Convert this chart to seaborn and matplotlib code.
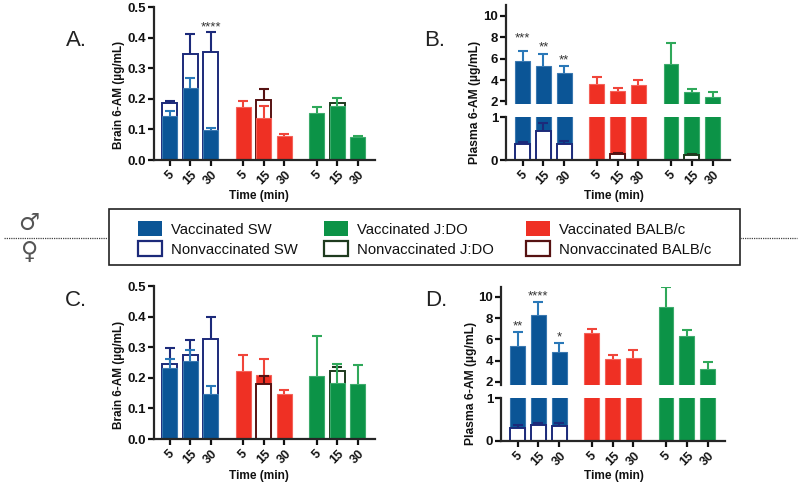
import matplotlib
matplotlib.use("Agg")
import matplotlib.pyplot as plt
from matplotlib.lines import Line2D
from matplotlib.patches import Patch, Rectangle
import seaborn as sns
import pandas as pd
import numpy as np

W, H = 800, 486

times = ["5", "15", "30"]
strains = ["SW", "BALB/c", "J:DO"]
nan = np.nan

# panel A, brain, male
a_vacc = [0.143, 0.235, 0.098, 0.173, 0.138, 0.077, 0.152, 0.175, 0.074]
a_vacc_hi = [0.160, 0.268, 0.105, 0.192, 0.178, 0.086, 0.173, 0.202, 0.080]
a_non = [0.185, 0.348, 0.353, nan, 0.197, nan, nan, 0.187, nan]
a_non_hi = [0.193, 0.412, 0.418, nan, 0.232, nan, nan, nan, nan]
a_stars = ["", "", "****", "", "", "", "", "", ""]

# panel B, plasma, male
b_vacc = [5.75, 5.35, 4.65, 3.65, 2.95, 3.50, 5.50, 2.85, 2.45]
b_vacc_hi = [6.75, 6.40, 5.30, 4.25, 3.25, 4.00, 7.45, 3.15, 2.90]
b_non = [0.38, 0.67, 0.38, nan, 0.13, nan, nan, 0.12, nan]
b_non_hi = [0.42, 0.86, 0.44, nan, 0.16, nan, nan, 0.14, nan]
b_stars = ["***", "**", "**", "", "", "", "", "", ""]

# panel C, brain, female
c_vacc = [0.232, 0.255, 0.147, 0.222, 0.208, 0.146, 0.207, 0.183, 0.180]
c_vacc_hi = [0.260, 0.290, 0.173, 0.275, 0.262, 0.160, 0.335, 0.245, 0.243]
c_non = [0.245, 0.275, 0.327, nan, 0.180, nan, nan, 0.222, nan]
c_non_hi = [0.297, 0.322, 0.398, nan, 0.207, nan, nan, 0.235, nan]
c_stars = [""] * 9

# panel D, plasma, female
d_vacc = [5.40, 8.25, 4.85, 6.60, 4.15, 4.25, 9.05, 6.35, 3.25]
d_vacc_hi = [6.70, 9.50, 5.70, 6.95, 4.50, 5.00, 10.95, 6.90, 3.90]
d_non = [0.30, 0.36, 0.35, nan, nan, nan, nan, nan, nan]
d_non_hi = [0.36, 0.41, 0.41, nan, nan, nan, nan, nan, nan]
d_stars = ["**", "****", "*", "", "", "", "", "", ""]

fill = {"SW": "#0b5596", "BALB/c": "#ef3024", "J:DO": "#0c9347"}
whisk = {"SW": "#2a78b8", "BALB/c": "#f0453a", "J:DO": "#2fa85a"}
dark = {"SW": "#1c2a7a", "BALB/c": "#561212", "J:DO": "#1e3b1e"}
edge = {"SW": "#3a78b0", "BALB/c": "#f4625a", "J:DO": "#3dab6c"}

sns.set_theme(style="ticks")
plt.rcParams["font.family"] = ["Liberation Sans", "DejaVu Sans"]
plt.rcParams["font.weight"] = "bold"
plt.rcParams["axes.linewidth"] = 1.6

fig = plt.figure(figsize=(W / 100, H / 100), dpi=100)
pos = np.array([g * 3.57 + t for g in range(3) for t in range(3)])
unit_pal = [s for s in strains for _ in times]


def pixel_axes(left, right, top, bottom):
    return fig.add_axes([left / W, 1 - bottom / H, (right - left) / W, (bottom - top) / H])


def whisker(ax, x, y, hi, color):
    # upper arm only, no cap on the bar top
    ax.vlines(x, y, hi, color=color, lw=1.5, zorder=3)
    ax.plot([x], [hi], marker="_", ms=7.5, mew=1.5, color=color, zorder=3)


def draw_bars(ax, vacc, vacc_hi, non, non_hi):
    vacc, vacc_hi = np.array(vacc), np.array(vacc_hi)
    non, non_hi = np.array(non), np.array(non_hi)
    df = pd.DataFrame({"x": pos, "vacc": vacc, "strain": unit_pal})

    def open_bars(mask):
        for i in np.flatnonzero(mask):
            sns.barplot(x=[pos[i]], y=[non[i]], native_scale=True, ax=ax, width=0.72,
                        color="white", saturation=1, edgecolor=dark[unit_pal[i]], linewidth=1.4)
            if not np.isnan(non_hi[i]):
                whisker(ax, pos[i], non[i], non_hi[i], dark[unit_pal[i]])

    open_bars(non >= vacc)
    for s in strains:
        sub = df[df["strain"] == s]
        sns.barplot(data=sub, x="x", y="vacc", color=fill[s], native_scale=True, ax=ax,
                    width=0.72, saturation=1, edgecolor=edge[s], linewidth=0.8)
    for i in range(len(pos)):
        whisker(ax, pos[i], vacc[i], vacc_hi[i], whisk[unit_pal[i]])
    open_bars(non < vacc)


def style_axis(ax, xlim):
    ax.set_xlim(*xlim)
    ax.set_xlabel("")
    ax.set_ylabel("")
    ax.spines["top"].set_visible(False)
    ax.spines["right"].set_visible(False)
    ax.tick_params(axis="y", length=4, width=1.6, labelsize=9.5, pad=1.5, colors="#111111")


def x_ticks(ax):
    ax.set_xticks(pos)
    ax.set_xticklabels(times * 3, rotation=45, ha="center", rotation_mode="default")
    ax.tick_params(axis="x", length=4, width=1.6, labelsize=9, pad=2.5, colors="#111111")


def add_stars(ax, tops, stars, gaps):
    for x, top, s, gap in zip(pos, tops, stars, gaps):
        if s:
            ax.annotate(s, (x, top), xytext=(0, gap), textcoords="offset points", ha="center",
                        va="center", fontsize=9.5, fontweight="normal", color="#333333")


def brain_panel(left, right, top, bottom, vacc, vacc_hi, non, non_hi, stars, gaps):
    ax = pixel_axes(left, right, top, bottom)
    draw_bars(ax, vacc, vacc_hi, non, non_hi)
    style_axis(ax, (-0.76, 9.97))
    ax.set_ylim(0, 0.5)
    ax.set_yticks([0, 0.1, 0.2, 0.3, 0.4, 0.5])
    ax.set_yticklabels(["0.0", "0.1", "0.2", "0.3", "0.4", "0.5"])
    x_ticks(ax)
    add_stars(ax, np.nanmax([vacc_hi, non_hi], axis=0), stars, gaps)
    return ax


def plasma_panel(left, right, upper_top, upper_bottom, lower_top, lower_bottom, y_two, y_ten,
                 vacc, vacc_hi, non, non_hi, stars, gaps):
    per = (y_two - y_ten) / 8
    up = pixel_axes(left, right, upper_top, upper_bottom)
    draw_bars(up, vacc, vacc_hi, [nan] * 9, [nan] * 9)
    style_axis(up, (-0.80, 9.98))
    up.set_ylim(2 - (upper_bottom - y_two) / per, 2 + (y_two - upper_top) / per)
    up.set_yticks([2, 4, 6, 8, 10])
    up.set_xticks([])
    up.spines["bottom"].set_visible(False)
    add_stars(up, vacc_hi, stars, gaps)
    low = pixel_axes(left, right, lower_top, lower_bottom)
    draw_bars(low, vacc, vacc_hi, non, non_hi)
    style_axis(low, (-0.80, 9.98))
    low.set_ylim(0, 1)
    low.set_yticks([0, 1])
    x_ticks(low)
    return up, low


brain_panel(154, 375, 7, 160, a_vacc, a_vacc_hi, a_non, a_non_hi, a_stars, [3.5] * 9)
brain_panel(154, 375, 286, 439, c_vacc, c_vacc_hi, c_non, c_non_hi, c_stars, [3.5] * 9)
plasma_panel(506, 730, 5.3, 104.3, 117, 160, 101.5, 16, b_vacc, b_vacc_hi, b_non, b_non_hi, b_stars,
             [8.5, 5, 4] + [5] * 6)
plasma_panel(501, 725, 286.7, 384.7, 398, 440.7, 382, 296.7, d_vacc, d_vacc_hi, d_non, d_non_hi, d_stars,
             [4, 4, 4] + [5] * 6)


def px_text(x, y, s, **kw):
    fig.text(x / W, 1 - y / H, s, ha="center", va="center", **kw)


for x, y, s, size in [(119, 95, "Brain 6-AM (µg/mL)", 8.5), (119, 375, "Brain 6-AM (µg/mL)", 8.5),
                      (475, 102, "Plasma 6-AM (µg/mL)", 8.7), (471, 383, "Plasma 6-AM (µg/mL)", 8.7)]:
    px_text(x, y, s, rotation=90, fontsize=size, color="#111111")
for x, y in [(259, 196), (259, 476), (614, 196), (614, 476)]:
    px_text(x, y, "Time (min)", fontsize=8.6, color="#111111")
for x, y, s in [(76, 40, "A."), (76, 300, "C."), (435, 40, "B."), (436, 300, "D.")]:
    px_text(x, y, s, fontsize=16, fontweight="normal", color="#222222")

# sex divider and symbols
for x0, x1 in [(4, 108), (740, 797)]:
    fig.add_artist(Line2D([x0 / W, x1 / W], [1 - 237.7 / H] * 2, color="#444444", lw=0.9, ls=(0, (1, 0.8))))
px_text(29, 223, "♂", fontsize=17, fontweight="normal", color="#555555", family="DejaVu Sans")
px_text(30, 252, "♀", fontsize=17, fontweight="normal", color="#555555", family="DejaVu Sans")

fig.add_artist(Rectangle((108.7 / W, 1 - 265 / H), 631.3 / W, 56 / H, transform=fig.transFigure,
                         facecolor="white", edgecolor="#222222", lw=1.2))
# one legend per column, the original columns do not share a spacing
for s, x in [("SW", 138), ("J:DO", 324), ("BALB/c", 526)]:
    handles = [Patch(facecolor=fill[s], edgecolor="none", label="Vaccinated " + s),
               Patch(facecolor="white", edgecolor=dark[s], lw=1.6, label="Nonvaccinated " + s)]
    fig.legend(handles=handles, loc="center left", bbox_to_anchor=(x / W, 1 - 239 / H), frameon=False,
               prop={"size": 10.7, "weight": "normal"}, handlelength=1.6, handleheight=1.15,
               labelspacing=0.3, handletextpad=0.6, borderpad=0, borderaxespad=0, labelcolor="#111111")

fig.savefig("out.png", dpi=100)
